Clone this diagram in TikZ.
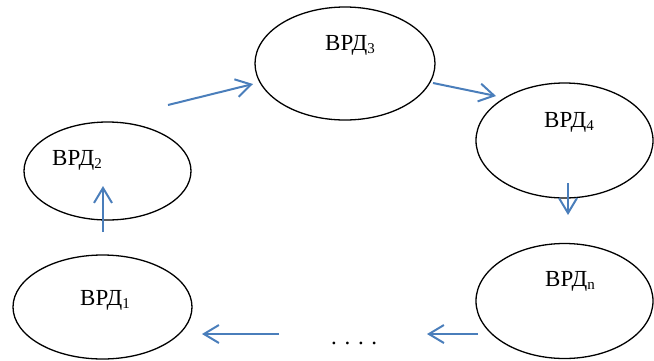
\documentclass[tikz,border=0pt]{standalone}
\usepackage{fontspec}
\setmainfont{Liberation Serif}
\usetikzlibrary{shapes.geometric,arrows.meta}
\definecolor{arrblue}{HTML}{4A7EBB}
\newcommand{\vrd}[1]{ВРД\raisebox{-3.5pt}{\fontsize{15}{15}\selectfont #1}}
\tikzset{
  ell/.style={draw=black, line width=1.3pt, ellipse, inner sep=0pt, outer sep=0pt},
  lbl/.style={anchor=base west, inner sep=0pt, font=\fontsize{23}{23}\selectfont},
  flow/.style={draw=arrblue, line width=2pt, -{Straight Barb[length=15pt,width=18pt,line width=2pt]}}
}
\begin{document}
\begin{tikzpicture}[x=1pt,y=-1pt]
\useasboundingbox (0,0) rectangle (654,360);
% ellipses
\node[ell, minimum width=179pt, minimum height=104pt] (e1) at (102.5,307) {};
\node[ell, minimum width=167pt, minimum height=98pt]  (e2) at (107.5,171) {};
\node[ell, minimum width=180pt, minimum height=113pt] (e3) at (345,63.5) {};
\node[ell, minimum width=177pt, minimum height=115pt] (e4) at (564.5,140.5) {};
\node[ell, minimum width=177pt, minimum height=115pt] (en) at (564.5,301) {};
% labels
\node[lbl] (t1) at (80,305) {\vrd{1}};
\node[lbl] (t2) at (52,165) {\vrd{2}};
\node[lbl] (t3) at (325,50) {\vrd{3}};
\node[lbl] (t4) at (544,127) {\vrd{4}};
\node[lbl] (tn) at (545,286) {\vrd{n}};
\node[lbl] (dots) at (331,344) {. . . .};
% arrow end points
\coordinate (a1s) at (103,232); \coordinate (a1e) at (103,186);
\coordinate (a2s) at (168,105); \coordinate (a2e) at (253,84);
\coordinate (a3s) at (433,83);  \coordinate (a3e) at (496,96);
\coordinate (a4s) at (568,183); \coordinate (a4e) at (568,215);
\coordinate (a5s) at (478,334); \coordinate (a5e) at (427,334);
\coordinate (a6s) at (279,334); \coordinate (a6e) at (202,334);
% arrows
\draw[flow] (a1s) -- (a1e);
\draw[flow] (a2s) -- (a2e);
\draw[flow] (a3s) -- (a3e);
\draw[flow] (a4s) -- (a4e);
\draw[flow] (a5s) -- (a5e);
\draw[flow] (a6s) -- (a6e);
\end{tikzpicture}
\end{document}
